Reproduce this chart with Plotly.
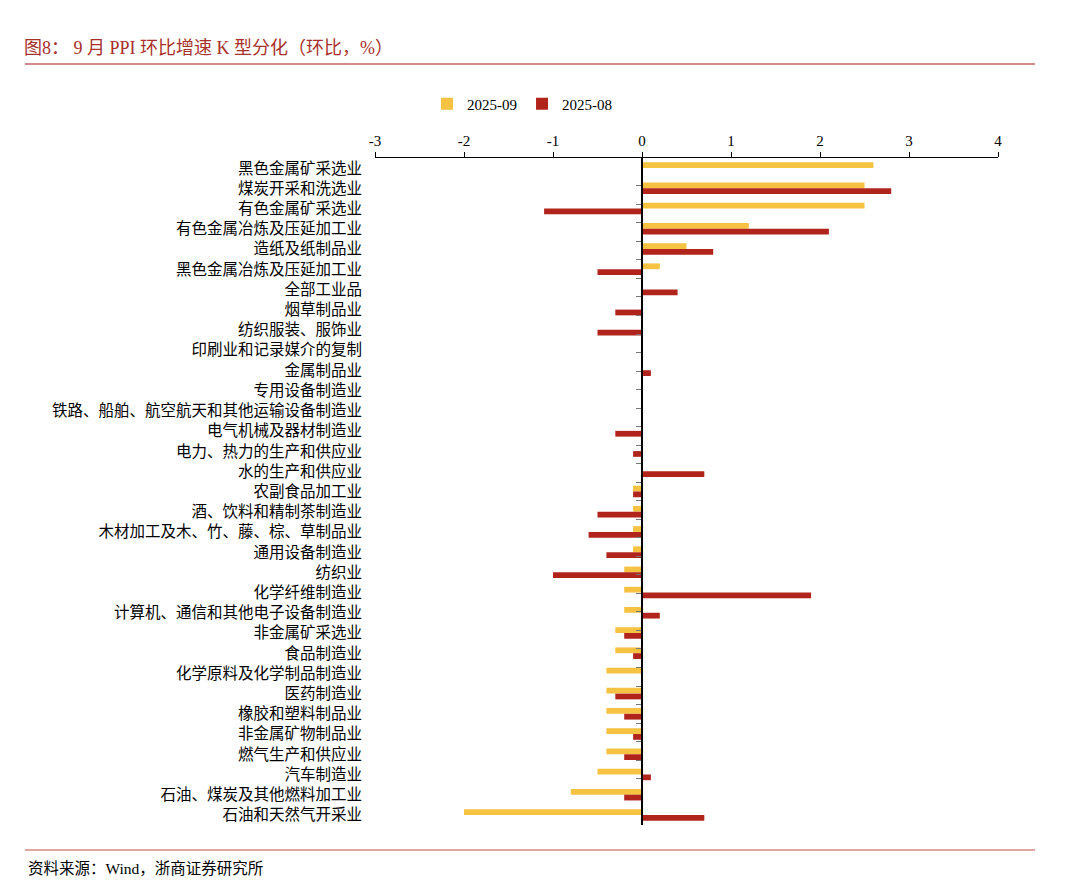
import plotly.graph_objects as go

categories = [
    "黑色金属矿采选业", "煤炭开采和洗选业", "有色金属矿采选业", "有色金属冶炼及压延加工业",
    "造纸及纸制品业", "黑色金属冶炼及压延加工业", "全部工业品", "烟草制品业",
    "纺织服装、服饰业", "印刷业和记录媒介的复制", "金属制品业", "专用设备制造业",
    "铁路、船舶、航空航天和其他运输设备制造业", "电气机械及器材制造业", "电力、热力的生产和供应业",
    "水的生产和供应业", "农副食品加工业", "酒、饮料和精制茶制造业", "木材加工及木、竹、藤、棕、草制品业",
    "通用设备制造业", "纺织业", "化学纤维制造业", "计算机、通信和其他电子设备制造业",
    "非金属矿采选业", "食品制造业", "化学原料及化学制品制造业", "医药制造业",
    "橡胶和塑料制品业", "非金属矿物制品业", "燃气生产和供应业", "汽车制造业",
    "石油、煤炭及其他燃料加工业", "石油和天然气开采业",
]
sep_2025 = [2.6, 2.5, 2.5, 1.2, 0.5, 0.2, 0.0, 0.0, 0.0, 0.0, 0.0, 0.0, 0.0, 0.0, 0.0,
            0.0, -0.1, -0.1, -0.1, -0.1, -0.2, -0.2, -0.2, -0.3, -0.3, -0.4, -0.4,
            -0.4, -0.4, -0.4, -0.5, -0.8, -2.0]
aug_2025 = [0.0, 2.8, -1.1, 2.1, 0.8, -0.5, 0.4, -0.3, -0.5, 0.0, 0.1, 0.0, 0.0, -0.3, -0.1,
            0.7, -0.1, -0.5, -0.6, -0.4, -1.0, 1.9, 0.2, -0.2, -0.1, 0.0, -0.3,
            -0.2, -0.1, -0.2, 0.1, -0.2, 0.7]
x_ticks = [-3, -2, -1, 0, 1, 2, 3, 4]
x_tick_labels = ["-3", "-2", "-1", "0", "1", "2", "3", "4"]

FONT = "Liberation Serif, Noto Sans CJK SC, serif"
YELLOW = "#F5C242"
RED = "#B0241B"

fig = go.Figure()
fig.add_trace(go.Bar(name="2025-09", y=categories, x=sep_2025, orientation="h",
                     marker=dict(color=YELLOW, line=dict(width=0))))
fig.add_trace(go.Bar(name="2025-08", y=categories, x=aug_2025, orientation="h",
                     marker=dict(color=RED, line=dict(width=0))))
# invisible helper trace so the zero-positioned axis (with boundary ticks) renders
fig.add_trace(go.Scatter(y=categories, x=[0] * len(categories), yaxis="y2", mode="markers",
                         marker=dict(opacity=0), showlegend=False, hoverinfo="skip"))

zero_pos = (0 - x_ticks[0]) / (x_ticks[-1] - x_ticks[0])

fig.update_layout(
    width=1080, height=887,
    paper_bgcolor="white", plot_bgcolor="white",
    margin=dict(l=367, r=90, t=150, b=70),
    barmode="group", bargap=0.43, bargroupgap=0,
    font=dict(family=FONT, size=14, color="#000000"),
    showlegend=True,
    legend=dict(orientation="h", x=0.236, xanchor="center", y=1.081, yanchor="middle",
                font=dict(family=FONT, size=15), traceorder="normal",
                itemwidth=30, bgcolor="rgba(0,0,0,0)"),
    xaxis=dict(range=[x_ticks[0], x_ticks[-1]], tickvals=x_ticks, ticktext=x_tick_labels,
               side="top", showline=True, linecolor="#000000", linewidth=1, ticks="outside",
               ticklen=5, tickcolor="#000000", showgrid=False, zeroline=False,
               tickfont=dict(family=FONT, size=15), fixedrange=True),
    yaxis=dict(type="category", categoryorder="array", categoryarray=categories,
               autorange="reversed", showline=False, ticks="", showgrid=False,
               tickfont=dict(family="Noto Sans CJK SC, sans-serif", size=15.5),
               ticklabelstandoff=12),
    yaxis2=dict(type="category", categoryorder="array", categoryarray=categories,
                autorange="reversed", overlaying="y", anchor="free", position=zero_pos,
                side="left", showline=True, linecolor="#000000", linewidth=1.5,
                ticks="outside", tickson="boundaries", ticklen=5, tickcolor="#777777",
                showticklabels=False, showgrid=False, zeroline=False),
    shapes=[
        dict(type="line", xref="paper", yref="paper", x0=-0.5618, x1=1.0594,
             y0=1.141, y1=1.141, line=dict(color="#D48A86", width=2)),
        dict(type="line", xref="paper", yref="paper", x0=-0.5618, x1=1.0594,
             y0=-0.0375, y1=-0.0375, line=dict(color="#D48A86", width=1.5)),
    ],
    annotations=[
        dict(text="图8： 9 月 PPI 环比增速 K 型分化（环比，%）", xref="paper", yref="paper",
             x=-0.5666, y=1.165, xanchor="left", yanchor="middle", showarrow=False,
             font=dict(family=FONT, size=18, color="#A8302A")),
        dict(text="资料来源：Wind，浙商证券研究所", xref="paper", yref="paper",
             x=-0.560, y=-0.0645, xanchor="left", yanchor="middle", showarrow=False,
             font=dict(family=FONT, size=15.5, color="#000000")),
    ],
)

fig.write_html("out.html")
